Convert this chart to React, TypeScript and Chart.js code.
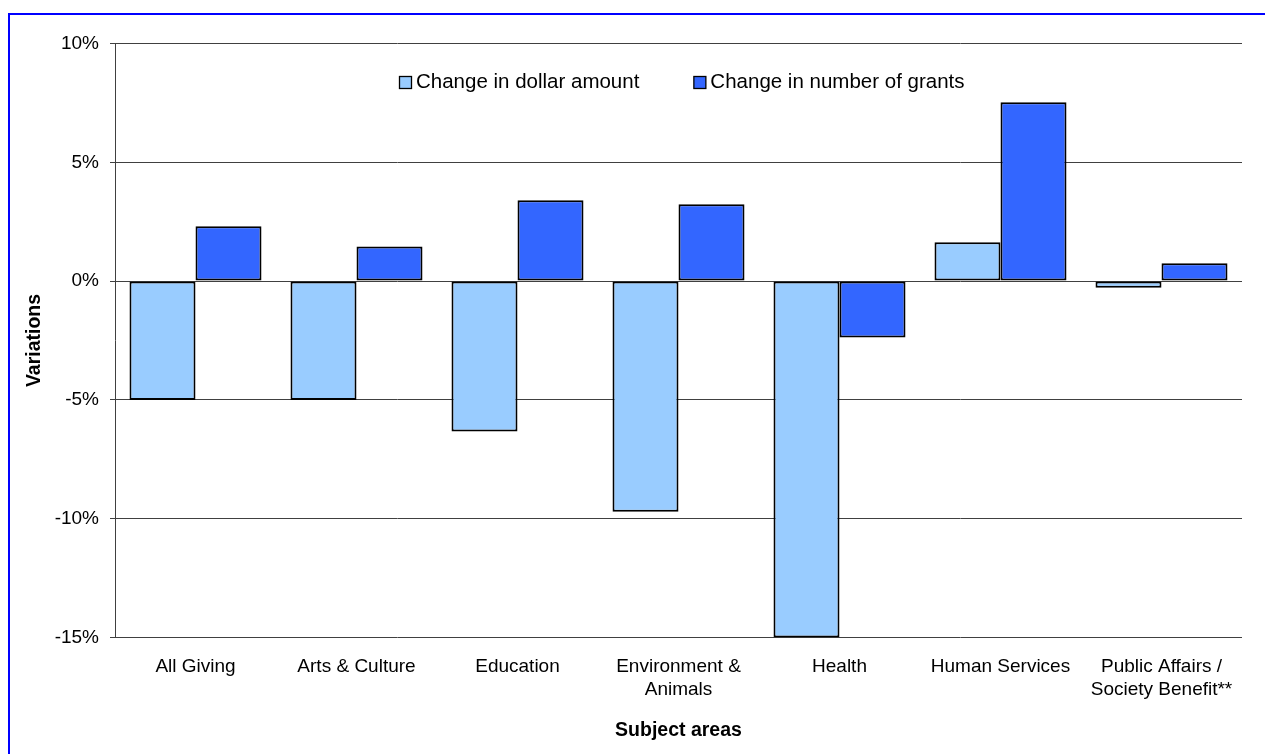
import React, { useEffect, useRef } from 'react';
import { Chart, registerables } from 'chart.js';

Chart.register(...registerables);

const categories: string[][] = [
  ['All Giving'],
  ['Arts & Culture'],
  ['Education'],
  ['Environment &', 'Animals'],
  ['Health'],
  ['Human Services'],
  ['Public Affairs /', 'Society Benefit**'],
];
const seriesLabels = ['Change in dollar amount', 'Change in number of grants'];
const dollarChange = [-5.0, -5.0, -6.33, -9.71, -15.0, 1.63, -0.28];
const grantsChange = [2.31, 1.46, 3.4, 3.23, -2.37, 7.53, 0.75];
const yMin = -15;
const yMax = 10;
const yStep = 5;

const FONT = '"Liberation Sans", Arial, Helvetica, sans-serif';
const LIGHT = '#99CCFF';
const DARK = '#3366FF';

const insideLegend = {
  id: 'insideLegend',
  afterDraw(chart: any) {
    const ctx = chart.ctx;
    const area = chart.chartArea;
    ctx.save();
    ctx.font = `20.5px ${FONT}`;
    const box = 12;
    const gap = 5;
    const itemGap = 54;
    const items = chart.data.datasets.map((ds: any) => ({
      label: ds.label,
      color: ds.backgroundColor,
      w: ctx.measureText(ds.label).width,
    }));
    const total =
      items.reduce((s: number, it: any) => s + box + gap + it.w, 0) + itemGap * (items.length - 1);
    let x = Math.round((area.left + area.right) / 2 + 3.5 - total / 2);
    const cy = area.top + 38;
    ctx.textBaseline = 'middle';
    ctx.textAlign = 'left';
    items.forEach((it: any) => {
      const by = Math.round(cy - box / 2) + 0.5;
      ctx.fillStyle = it.color;
      ctx.fillRect(x + 0.5, by, box, box);
      ctx.strokeStyle = '#000';
      ctx.lineWidth = 1.3;
      ctx.strokeRect(x + 0.5, by, box, box);
      ctx.fillStyle = '#000';
      ctx.fillText(it.label, x + box + gap, cy + 0.5);
      x += box + gap + it.w + itemGap;
    });
    ctx.restore();
  },
};

export default function App() {
  const ref = useRef<HTMLCanvasElement | null>(null);

  useEffect(() => {
    if (!ref.current) return;
    const chart = new Chart(ref.current, {
      type: 'bar',
      data: {
        labels: categories,
        datasets: [
          {
            label: seriesLabels[0],
            data: dollarChange,
            backgroundColor: LIGHT,
            borderColor: '#000',
            borderWidth: 2,
            borderSkipped: false,
            categoryPercentage: 0.82,
            barPercentage: 1,
          },
          {
            label: seriesLabels[1],
            data: grantsChange,
            backgroundColor: DARK,
            borderColor: '#000',
            borderWidth: 2,
            borderSkipped: false,
            categoryPercentage: 0.82,
            barPercentage: 1,
          },
        ],
      },
      options: {
        animation: false,
        responsive: false,
        layout: { padding: { left: 9, top: 28.5, right: 23, bottom: 0 } },
        plugins: {
          legend: { display: false },
          tooltip: { enabled: false },
        },
        scales: {
          x: {
            grid: { display: false, drawTicks: false },
            border: { display: false },
            ticks: {
              color: '#000',
              font: { family: FONT, size: 19 },
              padding: 17.6,
              maxRotation: 0,
              autoSkip: false,
            },
            title: {
              display: true,
              text: 'Subject areas',
              color: '#000',
              font: { family: FONT, size: 19.5, weight: 'bold' },
              padding: { top: 4, bottom: 11.3 },
            },
            afterFit: (scale: any) => {
              scale.height = 116.5;
            },
          },
          y: {
            min: yMin,
            max: yMax,
            grid: { color: '#404040', lineWidth: 1, tickLength: 5, drawTicks: true },
            border: { display: true, color: '#404040', width: 1 },
            ticks: {
              stepSize: yStep,
              color: '#000',
              font: { family: FONT, size: 19 },
              padding: 11,
              callback: (v: any) => `${v}%`,
            },
            title: {
              display: true,
              text: 'Variations',
              color: '#000',
              font: { family: FONT, size: 19.5, weight: 'bold' },
              padding: { top: 4, bottom: 4 },
            },
            afterFit: (scale: any) => {
              scale.width = 96;
            },
          },
        },
      },
      plugins: [insideLegend],
    });
    return () => chart.destroy();
  }, []);

  return (
    <div
      style={{
        position: 'absolute',
        left: 8,
        top: 13,
        width: 1255,
        height: 739,
        borderTop: '2px solid #0000FF',
        borderLeft: '2px solid #0000FF',
        background: '#fff',
      }}
    >
      <canvas ref={ref} width={1255} height={739} style={{ display: 'block', width: 1255, height: 739 }} />
    </div>
  );
}
